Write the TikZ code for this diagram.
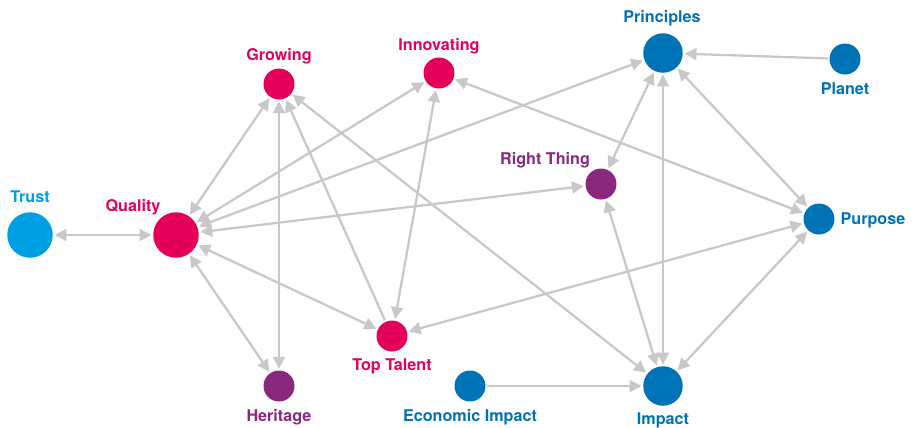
\documentclass[tikz,border=0pt]{standalone}
\usepackage{fontspec}
\setsansfont{TeX Gyre Heros}
\usepackage{xcolor}
\usepackage{tikz}
\usetikzlibrary{arrows.meta}

\definecolor{trustblue}{RGB}{0,159,227}
\definecolor{valmagenta}{RGB}{228,0,90}
\definecolor{valpurple}{RGB}{137,40,124}
\definecolor{valblue}{RGB}{0,114,182}
\definecolor{linkgray}{RGB}{200,200,200}

\begin{document}
\begin{tikzpicture}[x = 0.02cm, y = -0.02cm,
	bubble/.style = {circle, fill = #1, inner sep = 0pt, outer sep = 1pt, minimum size = 0.62cm},
	tag/.style = {text = #1, font = \sffamily\bfseries\fontsize{9.2}{10}\selectfont, inner sep = 0pt, text height = 6.6pt, text depth = 0pt},
	oneway/.style = {draw = linkgray, line width = 1.3pt, -{Triangle[length = 6.8pt, width = 6.8pt]}},
	twoway/.style = {oneway, {Triangle[length = 6.8pt, width = 6.8pt]}-{Triangle[length = 6.8pt, width = 6.8pt]}}]
	\useasboundingbox (0,0) rectangle (921,427);
	
	% values
	\node[bubble = trustblue, minimum size = 0.91cm] (trust) at (30,235) {};
	\node[bubble = valmagenta, minimum size = 0.91cm] (quality) at (176,235) {};
	\node[bubble = valmagenta] (growing) at (279,84) {};
	\node[bubble = valmagenta] (innovating) at (439,73) {};
	\node[bubble = valmagenta] (toptalent) at (392,336) {};
	\node[bubble = valpurple] (heritage) at (279,386) {};
	\node[bubble = valpurple] (rightthing) at (601,184) {};
	\node[bubble = valblue, minimum size = 0.79cm] (principles) at (663,53) {};
	\node[bubble = valblue] (planet) at (845,59) {};
	\node[bubble = valblue] (purpose) at (819,219) {};
	\node[bubble = valblue] (economic) at (470,386) {};
	\node[bubble = valblue, minimum size = 0.79cm] (impact) at (663,386) {};
	
	% names
	\node[tag = trustblue] (trust-t) at (30,197) {Trust};
	\node[tag = valmagenta] (quality-t) at (133,206) {Quality};
	\node[tag = valmagenta] (growing-t) at (279,55) {Growing};
	\node[tag = valmagenta] (innovating-t) at (439,45) {Innovating};
	\node[tag = valmagenta] (toptalent-t) at (392,365) {Top Talent};
	\node[tag = valpurple] (heritage-t) at (279,416) {Heritage};
	\node[tag = valpurple] (rightthing-t) at (545,159) {Right Thing};
	\node[tag = valblue] (principles-t) at (662,17) {Principles};
	\node[tag = valblue] (planet-t) at (845,89) {Planet};
	\node[tag = valblue] (purpose-t) at (873,219) {Purpose};
	\node[tag = valblue] (economic-t) at (470,416) {Economic Impact};
	\node[tag = valblue] (impact-t) at (663,419) {Impact};
	
	% links
	\foreach \a/\b in {trust/quality, quality/growing, quality/innovating, quality/principles,
		quality/rightthing, quality/toptalent, quality/heritage, growing/heritage, growing/impact,
		innovating/toptalent, innovating/purpose, toptalent/purpose, rightthing/principles,
		rightthing/impact, principles/impact, principles/purpose, purpose/impact} {
		\draw[twoway] (\a) -- (\b);
	}
	\foreach \a/\b in {toptalent/growing, planet/principles, economic/impact} {
		\draw[oneway] (\a) -- (\b);
	}
\end{tikzpicture}
\end{document}
